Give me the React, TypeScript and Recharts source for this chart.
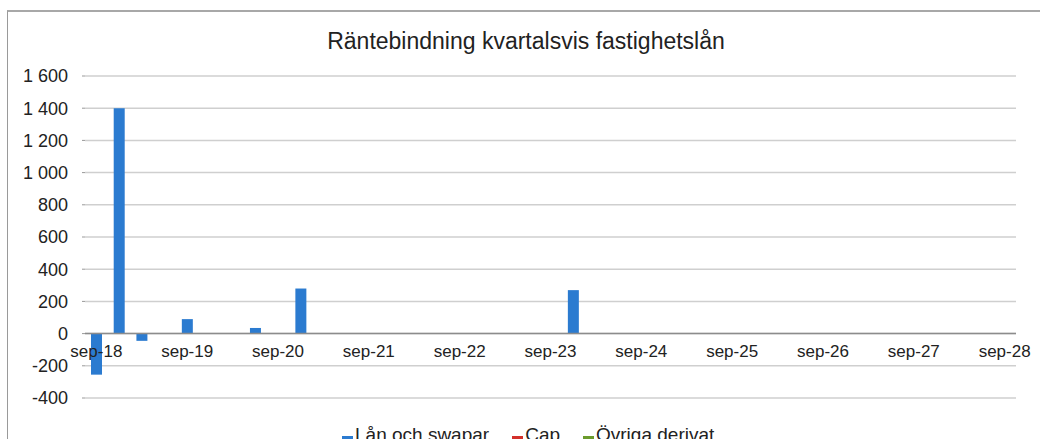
import {
  Bar,
  BarChart,
  CartesianGrid,
  ReferenceLine,
  XAxis,
  YAxis,
} from "recharts";

const quarters = [
  "sep-18", "dec-18", "mar-19", "jun-19",
  "sep-19", "dec-19", "mar-20", "jun-20",
  "sep-20", "dec-20", "mar-21", "jun-21",
  "sep-21", "dec-21", "mar-22", "jun-22",
  "sep-22", "dec-22", "mar-23", "jun-23",
  "sep-23", "dec-23", "mar-24", "jun-24",
  "sep-24", "dec-24", "mar-25", "jun-25",
  "sep-25", "dec-25", "mar-26", "jun-26",
  "sep-26", "dec-26", "mar-27", "jun-27",
  "sep-27", "dec-27", "mar-28", "jun-28",
  "sep-28",
];

const lanOchSwapar = [
  -255, 1400, -45, 0,
  90, 0, 0, 35,
  0, 280, 0, 0,
  0, 0, 0, 0,
  0, 0, 0, 0,
  0, 270, 0, 0,
  0, 0, 0, 0,
  0, 0, 0, 0,
  0, 0, 0, 0,
  0, 0, 0, 0,
  0,
];

const cap = [
  0, 0, 0, 0, 0, 0, 0, 0, 0, 0, 0, 0, 0, 0, 0, 0, 0, 0, 0, 0, 0,
  0, 0, 0, 0, 0, 0, 0, 0, 0, 0, 0, 0, 0, 0, 0, 0, 0, 0, 0, 0,
];

const ovrigaDerivat = [
  0, 0, 0, 0, 0, 0, 0, 0, 0, 0, 0, 0, 0, 0, 0, 0, 0, 0, 0, 0, 0,
  0, 0, 0, 0, 0, 0, 0, 0, 0, 0, 0, 0, 0, 0, 0, 0, 0, 0, 0, 0,
];

const seriesNames = ["Lån och swapar", "Cap", "Övriga derivat"];
const seriesColors = ["#2b7bd0", "#d3302b", "#6b9b2c"];

const yTicks = [-400, -200, 0, 200, 400, 600, 800, 1000, 1200, 1400, 1600];

const chartData = quarters.map((q, i) => ({
  quarter: q,
  lan: lanOchSwapar[i],
  cap: cap[i],
  ovriga: ovrigaDerivat[i],
}));

const W = 1040;
const H = 439;
const X_AXIS_H = 30;
const margin = { top: 76, right: 24, bottom: 41 - X_AXIS_H, left: 0 };
const yMin = -400;
const yMax = 1600;
const plotH = H - margin.top - 41;
const zeroY = margin.top + (plotH * yMax) / (yMax - yMin);

const FONT = "'Liberation Sans', Arial, sans-serif";

const formatY = (v: number) => {
  const s = Math.abs(v).toString();
  const withSpace = s.length > 3 ? s.slice(0, -3) + " " + s.slice(-3) : s;
  return v < 0 ? "-" + withSpace : withSpace;
};

const QuarterTick = (props: any) => {
  const { x, payload } = props;
  return (
    <text
      x={x}
      y={zeroY + 23}
      textAnchor="middle"
      fontSize={17}
      fontFamily={FONT}
      fill="#222"
    >
      {payload.value}
    </text>
  );
};

export default function App() {
  return (
    <div
      style={{
        position: "absolute",
        left: 0,
        top: 0,
        width: W,
        height: H,
        overflow: "hidden",
        background: "#fff",
      }}
    >
      <div
        style={{
          position: "absolute",
          left: 7,
          top: 10,
          width: W,
          height: H,
          borderLeft: "1.5px solid #9a9a9a",
          borderTop: "2px solid #a8a8a8",
        }}
      />
      <div
        style={{
          position: "absolute",
          top: 28,
          left: 6,
          width: W,
          textAlign: "center",
          fontFamily: FONT,
          fontSize: 23,
          color: "#222",
        }}
      >
        Räntebindning kvartalsvis fastighetslån
      </div>
      <BarChart
        width={W}
        height={H}
        data={chartData}
        margin={margin}
        barSize={11}
      >
        <CartesianGrid vertical={false} stroke="#cfcfcf" strokeWidth={1.5} />
        <XAxis
          dataKey="quarter"
          interval={3}
          height={X_AXIS_H}
          axisLine={false}
          tickLine={false}
          tick={<QuarterTick />}
        />
        <YAxis
          width={85}
          domain={[yMin, yMax]}
          ticks={yTicks}
          tickFormatter={formatY}
          axisLine={false}
          tickSize={3}
          tickMargin={14}
          tickLine={{ stroke: "#999" }}
          tick={{ fontSize: 18, fontFamily: FONT, fill: "#222" }}
        />
        <ReferenceLine y={0} stroke="#8c8c8c" strokeWidth={1.5} />
        <Bar
          dataKey="lan"
          name={seriesNames[0]}
          stackId="a"
          fill={seriesColors[0]}
          isAnimationActive={false}
        />
        <Bar
          dataKey="cap"
          name={seriesNames[1]}
          stackId="a"
          fill={seriesColors[1]}
          isAnimationActive={false}
        />
        <Bar
          dataKey="ovriga"
          name={seriesNames[2]}
          stackId="a"
          fill={seriesColors[2]}
          isAnimationActive={false}
        />
      </BarChart>
      <div
        style={{
          position: "absolute",
          top: 424,
          left: 342,
          display: "flex",
          gap: 23,
          fontFamily: FONT,
          fontSize: 19,
          lineHeight: "22px",
          color: "#222",
          whiteSpace: "nowrap",
        }}
      >
        {seriesNames.map((name, i) => (
          <span key={name} style={{ display: "flex", alignItems: "center" }}>
            <span
              style={{
                width: 11,
                height: 7,
                background: seriesColors[i],
                marginRight: 2,
                marginTop: 8,
                display: "inline-block",
              }}
            />
            {name}
          </span>
        ))}
      </div>
    </div>
  );
}
